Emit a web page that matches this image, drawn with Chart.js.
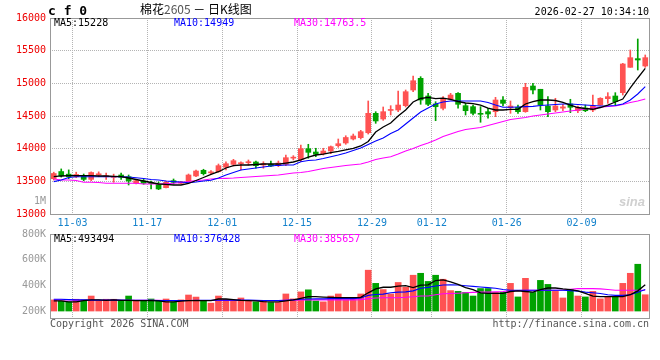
<!DOCTYPE html>
<html>
<head>
<meta charset="utf-8">
<script src="https://cdn.jsdelivr.net/npm/chart.js@4.4.1/dist/chart.umd.min.js"></script>
<style>
body { margin: 0; background: #fff; }
#wrap { position: relative; width: 660px; height: 360px; overflow: hidden; font-family: 'DejaVu Sans Mono', monospace; font-size: 10px; }
canvas { position: absolute; left: 0; top: 0; }
.t { position: absolute; white-space: nowrap; line-height: 1; }
</style>
</head>
<body>
<div id="wrap">
  <canvas id="kline" width="660" height="360"></canvas>
  <canvas id="vol" width="660" height="360"></canvas>
  <div class="t" style="left:48px;top:4px;font-weight:bold;font-size:13px">c f 0</div>
  <div class="t" style="left:140px;top:3px;font-size:12px;font-family:'Noto Sans CJK SC',sans-serif">棉花<span style="color:#555">2605</span> － 日K线图</div>
  <div class="t" style="right:11px;top:7px">2026-02-27 10:34:10</div>
  <div class="t" style="left:54px;top:18px;color:#000">MA5:15228</div>
  <div class="t" style="left:174px;top:18px;color:#0000ff">MA10:14949</div>
  <div class="t" style="left:294px;top:18px;color:#ff00ff">MA30:14763.5</div>
  <div class="t" style="right:614px;top:196px;color:#999">1M</div>
  <div class="t" style="left:619px;top:194px;color:#d0d0d0;font:italic bold 13px 'Liberation Sans',sans-serif">sina</div>
  <div class="t" style="left:54px;top:234px;color:#000">MA5:493494</div>
  <div class="t" style="left:174px;top:234px;color:#0000ff">MA10:376428</div>
  <div class="t" style="left:294px;top:234px;color:#ff00ff">MA30:385657</div>
  <div class="t" style="left:50px;top:319px;color:#555">Copyright 2026 SINA.COM</div>
  <div class="t" style="right:11px;top:319px;color:#555">http://finance.sina.com.cn</div>
</div>
<script>
// trading days shown on the chart
var dates = ['10-29','10-30','10-31','11-03','11-04','11-05','11-06','11-07','11-10','11-11',
  '11-12','11-13','11-14','11-17','11-18','11-19','11-20','11-21','11-24','11-25',
  '11-26','11-27','11-28','12-01','12-02','12-03','12-04','12-05','12-08','12-09',
  '12-10','12-11','12-12','12-15','12-16','12-17','12-18','12-19','12-22','12-23',
  '12-24','12-25','12-26','12-29','12-30','12-31','01-05','01-06','01-07','01-08',
  '01-09','01-12','01-13','01-14','01-15','01-16','01-19','01-20','01-21','01-22',
  '01-23','01-26','01-27','01-28','01-29','01-30','02-02','02-03','02-04','02-05',
  '02-06','02-09','02-10','02-11','02-12','02-13','02-24','02-25','02-26','02-27'];
var tickDates = ['11-03','11-17','12-01','12-15','12-29','01-12','01-26','02-09'];

// daily prices
var opens = [13540,13650,13610,13570,13585,13530,13600,13570,13560,13597,
  13571,13470,13505,13480,13450,13403,13510,13470,13495,13582,
  13669,13630,13647,13715,13760,13770,13785,13796,13750,13760,
  13740,13760,13855,13831,14000,13949,13923,13964,14046,14087,
  14148,14168,14244,14541,14454,14585,14592,14658,14898,15077,
  14806,14684,14618,14756,14847,14658,14643,14541,14566,14566,
  14745,14627,14633,14566,14959,14909,14653,14592,14620,14684,
  14581,14622,14592,14668,14765,14806,14857,15245,15378,15265];
var highs = [13640,13690,13675,13640,13612,13645,13645,13625,13610,13625,
  13597,13520,13530,13505,13490,13505,13536,13500,13612,13674,
  13685,13665,13765,13800,13837,13800,13827,13811,13800,13811,
  13811,13903,13893,14056,14067,14006,14006,14041,14148,14198,
  14224,14281,14730,14566,14638,14658,14883,14898,15112,15102,
  14847,14719,14796,14847,14857,14694,14668,14643,14618,14786,
  14796,14730,14668,15000,15000,14909,14796,14771,14680,14756,
  14653,14668,14821,14780,14857,14857,15306,15510,15679,15434];
var lows = [13520,13565,13540,13555,13510,13510,13570,13530,13485,13530,
  13444,13460,13455,13385,13372,13398,13459,13465,13490,13570,
  13597,13610,13640,13674,13735,13674,13750,13700,13700,13725,
  13725,13740,13827,13800,13853,13877,13903,13923,14021,14067,
  14133,14148,14224,14388,14434,14515,14566,14638,14872,14679,
  14658,14428,14592,14745,14618,14515,14515,14404,14465,14490,
  14653,14541,14541,14557,14837,14592,14490,14566,14580,14551,
  14551,14566,14566,14665,14694,14668,14821,15245,15204,15245];
var closes = [13620,13585,13570,13605,13530,13635,13610,13580,13570,13562,
  13505,13510,13470,13465,13383,13485,13485,13490,13597,13658,
  13617,13640,13740,13770,13816,13780,13795,13740,13770,13735,
  13780,13862,13865,14000,13944,13914,13964,14030,14076,14171,
  14194,14260,14541,14424,14566,14595,14668,14872,15040,14745,
  14679,14642,14771,14821,14679,14581,14541,14526,14531,14745,
  14694,14653,14566,14939,14898,14668,14566,14653,14640,14633,
  14633,14581,14653,14771,14796,14719,15296,15393,15357,15393];

// moving averages as drawn
var ma5 = [13571,13582,13586,13586,13586,13586,13582,13582,13577,13571,
  13551,13528,13505,13482,13459,13452,13444,13444,13467,13513,
  13559,13605,13647,13704,13742,13750,13750,13758,13765,13765,
  13765,13780,13796,13827,13872,13903,13918,13938,13957,13980,
  14003,14041,14110,14255,14332,14393,14500,14592,14714,14768,
  14786,14765,14773,14753,14722,14699,14691,14668,14622,14592,
  14592,14600,14603,14684,14719,14745,14745,14737,14707,14668,
  14630,14615,14603,14630,14668,14714,14760,14929,15082,15228];
var ma10 = [13495,13520,13559,13571,13571,13571,13571,13571,13571,13571,
  13566,13556,13543,13528,13520,13505,13495,13490,13479,13490,
  13505,13516,13551,13597,13635,13674,13689,13704,13719,13735,
  13745,13750,13750,13801,13819,13827,13850,13877,13903,13934,
  13972,14010,14064,14117,14163,14232,14286,14378,14470,14561,
  14622,14684,14714,14730,14730,14730,14730,14730,14707,14668,
  14633,14633,14638,14643,14648,14661,14668,14676,14684,14684,
  14676,14668,14661,14653,14653,14661,14684,14745,14837,14949];
var ma30 = [13536,13520,13520,13513,13485,13485,13482,13470,13470,13470,
  13470,13470,13459,13459,13459,13464,13470,13482,13495,13513,
  13520,13536,13543,13546,13551,13559,13566,13574,13582,13589,
  13597,13612,13628,13635,13651,13674,13697,13712,13727,13742,
  13755,13765,13796,13834,13857,13877,13918,13964,14003,14049,
  14087,14133,14186,14224,14263,14293,14309,14324,14355,14385,
  14416,14446,14462,14477,14500,14515,14531,14546,14561,14577,
  14592,14607,14622,14633,14645,14653,14676,14707,14730,14760];

// volume
var volumes = [290000,282000,275000,295000,290000,320000,282000,295000,295000,282000,
  320000,282000,282000,297000,282000,297000,275000,290000,328000,312000,
  282000,265000,320000,295000,282000,305000,282000,275000,282000,270000,
  270000,336000,298000,352000,368000,282000,275000,320000,336000,290000,
  308000,336000,520000,418000,370000,336000,425000,388000,481000,496000,
  433000,481000,450000,362000,356000,348000,320000,378000,378000,348000,
  348000,418000,313000,457000,348000,441000,410000,356000,305000,370000,
  320000,313000,356000,298000,313000,313000,418000,496000,566000,330000];
var vma5 = [282000,282000,275000,275000,285000,290000,290000,287000,290000,287000,
  287000,285000,285000,285000,282000,275000,275000,280000,285000,285000,
  285000,285000,297000,297000,292000,287000,285000,282000,277000,275000,
  275000,282000,290000,302000,315000,315000,312000,310000,307000,307000,
  307000,310000,345000,375000,388000,388000,397000,400000,385000,405000,
  407000,440000,445000,430000,410000,385000,370000,345000,340000,340000,
  340000,355000,360000,355000,350000,370000,382000,382000,375000,370000,
  360000,340000,320000,315000,315000,315000,315000,330000,360000,407000];
var vma10 = [295000,295000,292000,290000,290000,288000,288000,288000,288000,288000,
  287000,287000,287000,287000,285000,285000,285000,285000,285000,287000,
  287000,287000,287000,288000,288000,288000,288000,287000,285000,285000,
  285000,287000,290000,295000,297000,298000,298000,300000,300000,300000,
  300000,305000,325000,332000,335000,345000,350000,352000,360000,380000,
  387000,398000,405000,407000,405000,400000,395000,390000,385000,380000,
  370000,365000,365000,365000,365000,365000,365000,365000,365000,362000,
  358000,350000,345000,340000,330000,325000,325000,330000,350000,370000];
var vma30 = [290000,290000,290000,287000,287000,287000,287000,287000,287000,287000,
  286000,286000,286000,286000,286000,285000,285000,285000,285000,285000,
  285000,285000,285000,285000,285000,285000,285000,285000,285000,285000,
  285000,287000,288000,290000,290000,290000,290000,290000,290000,290000,
  290000,292000,300000,305000,307000,307000,307000,310000,315000,320000,
  320000,330000,338000,340000,342000,345000,348000,350000,350000,352000,
  355000,360000,362000,365000,365000,365000,365000,365000,367000,372000,
  377000,377000,377000,375000,370000,365000,365000,365000,365000,365000];

var volTicks = [200000, 400000, 600000, 800000];
var volGrid = [320000, 475000, 630000];

var FONT = 'DejaVu Sans Mono';
var UP = '#ff5252';
var DOWN = '#00a200';
var GRID = '#b4b4b4';

Chart.defaults.font.family = FONT;
Chart.defaults.font.size = 10;

var candleColors = closes.map(function(c, i) { return c >= opens[i] ? UP : DOWN; });

// gray frame round the plot area
var boxPlugin = {
    id: 'box',
    afterDraw: function(chart) {
        var a = chart.chartArea;
        var ctx = chart.ctx;
        ctx.save();
        ctx.strokeStyle = '#999';
        ctx.lineWidth = 1;
        ctx.strokeRect(Math.floor(a.left) + 0.5, Math.floor(a.top) + 0.5, Math.round(a.right - a.left), Math.round(a.bottom - a.top));
        ctx.restore();
    }
};

function dateGrid(ctx) {
    return tickDates.indexOf(dates[ctx.index]) >= 0 ? GRID : 'transparent';
}

function maLine(data, color, width) {
    return {
        type: 'line',
        data: data,
        borderColor: color,
        borderWidth: width,
        pointRadius: 0,
        fill: false,
        tension: 0,
        order: 0
    };
}

// price panel
new Chart(document.getElementById('kline'), {
    type: 'bar',
    data: {
        labels: dates,
        datasets: [
            {
                data: lows.map(function(l, i) { return [l, highs[i]]; }),
                backgroundColor: candleColors,
                barThickness: 1,
                grouped: false,
                order: 2
            },
            {
                data: opens.map(function(o, i) { return [o, closes[i]]; }),
                backgroundColor: candleColors,
                barThickness: 5,
                minBarLength: 1,
                grouped: false,
                order: 1
            },
            maLine(ma5, '#000000', 1.3),
            maLine(ma10, '#0000ff', 1.1),
            maLine(ma30, '#ff00ff', 1.1)
        ]
    },
    options: {
        responsive: false,
        animation: false,
        devicePixelRatio: 1,
        layout: { padding: { top: 18, right: 11, bottom: 128, left: 0 } },
        plugins: { legend: { display: false }, tooltip: { enabled: false } },
        scales: {
            x: {
                ticks: {
                    autoSkip: false,
                    maxRotation: 0,
                    color: '#1482cc',
                    padding: 3,
                    labelOffset: -3.75,
                    callback: function(v, i) { return tickDates.indexOf(dates[i]) >= 0 ? dates[i] : ''; }
                },
                grid: { offset: true, drawTicks: false, color: dateGrid },
                border: { display: false, dash: [1, 1] },
                afterFit: function(s) { s.height = 18; }
            },
            y: {
                min: 13000,
                max: 16000,
                ticks: {
                    stepSize: 500,
                    color: '#ee0000',
                    padding: 4,
                    callback: function(v) { return String(v); }
                },
                grid: {
                    drawTicks: false,
                    color: function(ctx) {
                        var v = ctx.tick ? ctx.tick.value : null;
                        return (v === 13000 || v === 16000 || v === null) ? 'transparent' : GRID;
                    }
                },
                border: { display: false, dash: [1, 1] },
                afterFit: function(s) { s.width = 50; }
            }
        }
    },
    plugins: [boxPlugin]
});

// volume panel
new Chart(document.getElementById('vol'), {
    type: 'bar',
    data: {
        labels: dates,
        datasets: [
            {
                data: volumes,
                base: 200000,
                backgroundColor: candleColors,
                barThickness: 6,
                order: 1
            },
            maLine(vma5, '#000000', 1.3),
            maLine(vma10, '#0000ff', 1.1),
            maLine(vma30, '#ff00ff', 1.1)
        ]
    },
    options: {
        responsive: false,
        animation: false,
        devicePixelRatio: 1,
        layout: { padding: { top: 234, right: 11, bottom: 42, left: 0 } },
        plugins: { legend: { display: false }, tooltip: { enabled: false } },
        scales: {
            x: {
                ticks: { display: false },
                grid: { offset: true, drawTicks: false, color: dateGrid },
                border: { display: false, dash: [1, 1] },
                afterFit: function(s) { s.height = 0; }
            },
            y: {
                min: 150000,
                max: 800000,
                afterBuildTicks: function(s) {
                    s.ticks = volTicks.concat(volGrid).sort(function(a, b) { return a - b; })
                        .map(function(v) { return { value: v }; });
                },
                ticks: {
                    color: '#999',
                    padding: 4,
                    callback: function(v) { return volTicks.indexOf(v) >= 0 ? (v / 1000) + 'K' : ''; }
                },
                grid: {
                    drawTicks: false,
                    color: function(ctx) {
                        return ctx.tick && volGrid.indexOf(ctx.tick.value) >= 0 ? GRID : 'transparent';
                    }
                },
                border: { display: false, dash: [1, 1] },
                afterFit: function(s) { s.width = 50; }
            }
        }
    },
    plugins: [boxPlugin]
});
</script>
</body>
</html>
